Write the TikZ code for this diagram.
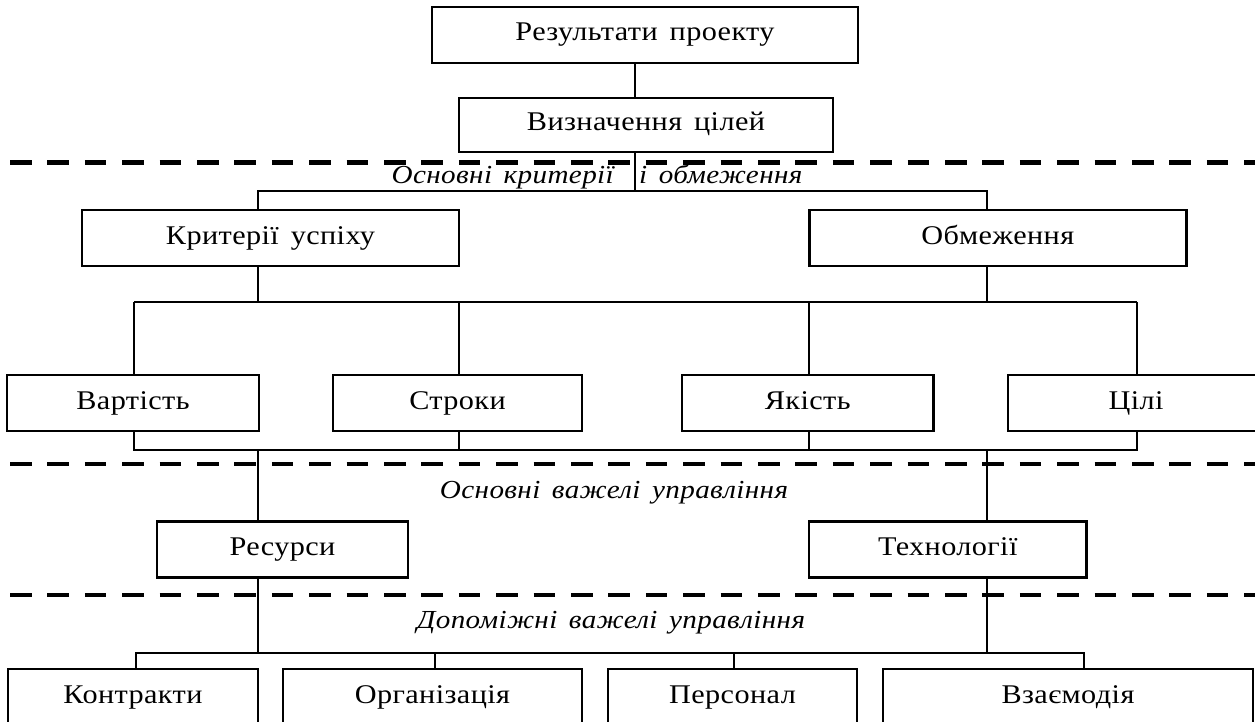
\documentclass[tikz,border=0pt]{standalone}
\usepackage{fontspec}
\setmainfont{Liberation Serif}[LetterSpace=1.5, FakeStretch=1.12, WordSpace=1.5]
\begin{document}
\begin{tikzpicture}[x=1pt,y=-1pt,
  box/.style={draw, line width=2.6pt, inner sep=0pt, minimum height=56pt,
    text height=20pt, text depth=8pt, font=\fontsize{27}{32}\selectfont},
  conn/.style={line width=2.4pt},
  sep/.style={line width=4.5pt, dash pattern=on 21.5pt off 15.9pt},
  lab/.style={inner sep=0pt, font=\fontsize{26}{31}\selectfont\itshape}]
\useasboundingbox (0,0) rectangle (1255,722);
\clip (0,0) rectangle (1255,722);

% separators between the levels
\draw[sep] (10,162.5) -- (1280,162.5);
\draw[sep] (10,464) -- (1280,464);
\draw[sep] (10,595) -- (1280,595);

% boxes
\node[box, minimum width=426pt] (res) at (645,35) {Результати проекту};
\node[box, minimum width=374pt, minimum height=54pt] (viz) at (646,125) {Визначення цілей};
\node[box, minimum width=377pt] (krit) at (270.5,238) {Критерії успіху};
\node[box, minimum width=377pt] (obm) at (997.75,238) {Обмеження};
\node[box, minimum width=252pt] (vart) at (133,403) {Вартість};
\node[box, minimum width=249pt] (strok) at (457.5,403) {Строки};
\node[box, minimum width=251.5pt] (yak) at (807.75,403) {Якість};
\node[box, minimum width=256pt] (cili) at (1136,403) {Цілі};
\node[box, minimum width=251pt] (resu) at (282.5,549.7) {Ресурси};
\node[box, minimum width=277.5pt] (tech) at (947.75,549.7) {Технології};
\node[box, minimum width=250pt] (kontr) at (133,697) {Контракти};
\node[box, minimum width=299pt] (org) at (432.5,697) {Організація};
\node[box, minimum width=249pt] (pers) at (732.5,697) {Персонал};
\node[box, minimum width=370pt] (vzaem) at (1068,697) {Взаємодія};

% level captions
\node[lab, anchor=base east] (l1a) at (614,184) {Основні критерії};
\node[lab, anchor=base west] (l1b) at (639,184) {і обмеження};
\node[lab, anchor=base] (l2) at (614,498) {Основні важелі управління};
\node[lab, anchor=base] (l3) at (611,628) {Допоміжні важелі управління};

% junction points of the connectors
\coordinate (j1) at (635,191);
\coordinate (b1l) at (258,191);
\coordinate (b1r) at (987,191);
\coordinate (b2a) at (134,302);
\coordinate (b2b) at (459,302);
\coordinate (b2c) at (809,302);
\coordinate (b2d) at (1137,302);
\coordinate (b3a) at (134,450);
\coordinate (b3d) at (1137,450);
\coordinate (b4a) at (136,653);
\coordinate (b4b) at (435,653);
\coordinate (b4c) at (734,653);
\coordinate (b4d) at (1084,653);

% connectors
\draw[conn] (res.south -| j1) -- (viz.north -| j1);
\draw[conn] (viz.south -| j1) -- (j1);
\draw[conn] (krit.north -| b1l) |- (b1r) -- (obm.north -| b1r);
\draw[conn] (krit.south -| b1l) -- (b1l |- b2a);
\draw[conn] (obm.south -| b1r) -- (b1r |- b2a);
\draw[conn] (b2a) -- (b2d);
\draw[conn] (b2a) -- (vart.north -| b2a);
\draw[conn] (b2b) -- (strok.north -| b2b);
\draw[conn] (b2c) -- (yak.north -| b2c);
\draw[conn] (b2d) -- (cili.north -| b2d);
\draw[conn] (vart.south -| b3a) -- (b3a) -- (b3d) -- (cili.south -| b3d);
\draw[conn] (strok.south -| b2b) -- (b2b |- b3a);
\draw[conn] (yak.south -| b2c) -- (b2c |- b3a);
\draw[conn] (b1l |- b3a) -- (resu.north -| b1l);
\draw[conn] (b1r |- b3a) -- (tech.north -| b1r);
\draw[conn] (resu.south -| b1l) -- (b1l |- b4a);
\draw[conn] (tech.south -| b1r) -- (b1r |- b4a);
\draw[conn] (kontr.north -| b4a) -- (b4a) -- (b4d) -- (vzaem.north -| b4d);
\draw[conn] (b4b) -- (org.north -| b4b);
\draw[conn] (b4c) -- (pers.north -| b4c);
\end{tikzpicture}
\end{document}
